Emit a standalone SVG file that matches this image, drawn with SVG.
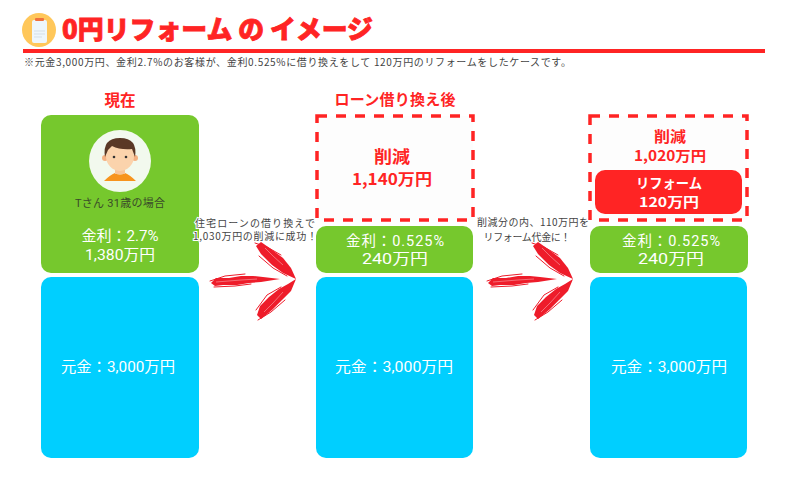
<svg xmlns="http://www.w3.org/2000/svg" width="789" height="485" viewBox="0 0 789 485">
<style>
text{font-family:"Roboto","Noto Sans CJK JP",sans-serif;text-anchor:middle}
.g{fill:#76c82d}.b{fill:#00cfff}
.w{fill:#fff;font-size:14.5px}
.r{fill:#ff2424;font-weight:700;font-family:"Noto Sans CJK JP",sans-serif}
.c{fill:#444;font-size:10px;font-family:"Noto Sans CJK JP",sans-serif}
.d{fill:#fdfdfd;stroke:#ff2424;stroke-width:3.5;stroke-dasharray:10 9}
.f{fill:#ee1c2a}
.s{fill:none;stroke:#ee1c2a;stroke-width:1;stroke-linecap:round}
.h{fill:none;stroke:#fff;stroke-width:.6;opacity:.6}
</style>
<defs>
<g id="arrow">
<path class="f" d="M0 3 L5 -2 L18 -2 L30 -4 L42 -4 L52 -3 L69 -1 L50 2 L38 3 L26 5 L12 5 L4 6Z"/>
<path class="f" d="M45 -34 L50 -38 L60 -31 L72 -22 L80 -12 L85 -1 L72 -7 L61 -15 L50 -26Z"/>
<path class="f" d="M46 35 L49 26 L58 17 L68 9 L77 4 L85 -1 L80 11 L71 20 L61 30 L50 39Z"/>
<path class="s" d="M-1 1 L14 -4 L34 -6 M3 7 L24 6 L40 4 M44 -37 L56 -33 L70 -25 M48 -24 L62 -12 L76 -4 M47 40 L60 32 L74 20 M45 30 L56 15 L70 7"/>
<path class="h" d="M5 2 L30 0 L46 -1 M54 -32 L62 -24 L72 -15 M53 32 L62 23 L72 12"/>
</g>
</defs>
<g id="header">
<circle cx="39" cy="30" r="17" fill="#ffc75a"/>
<rect x="32" y="20" width="15" height="23" rx="2" fill="#eef6fb"/>
<rect x="35" y="18" width="9" height="3" rx="1" fill="#f0703c"/>
<path d="M34 31H45M34 34H45M34 37H42" stroke="#d5dfe6" stroke-width="1"/>
<text x="62" y="39" class="r" style="text-anchor:start;font-size:26px;font-weight:900" textLength="311" lengthAdjust="spacingAndGlyphs" stroke="#ff2424" stroke-width=".8">0円リフォーム の イメージ</text>
<rect x="23" y="49" width="742" height="4" fill="#ff2424"/>
<text x="24" y="66" class="c" style="text-anchor:start" textLength="547">※元金3,000万円、金利2.7%のお客様が、金利0.525%に借り換えをして 120万円のリフォームをしたケースです。</text>
</g>
<g id="connectors">
<use href="#arrow" x="211" y="280"/>
<use href="#arrow" x="488" y="280"/>
</g>
<g id="node-current">
<text class="r" x="120" y="106" font-size="15.5">現在</text>
<rect class="g" x="41" y="115" width="158" height="158" rx="10"/>
<circle cx="120" cy="161" r="31" fill="#f2f9ee"/>
<path d="M104 181 Q110 175 115 173 Q120 176 125 173 Q130 175 136 181Z" fill="#f7941d"/>
<circle cx="105" cy="158" r="3" fill="#f4b183"/><circle cx="135" cy="158" r="3" fill="#f4b183"/>
<rect x="115" y="165" width="10" height="9" fill="#f8c69a"/>
<ellipse cx="120" cy="156" rx="14" ry="15" fill="#fbd3ac"/>
<path d="M105 157 Q102 138 120 138 Q138 138 135 157 L132 149 Q120 150 112 146 L108 150Z" fill="#5a3825"/>
<circle cx="114" cy="157" r="1.3" fill="#333"/><circle cx="126" cy="157" r="1.3" fill="#333"/>
<text x="120" y="207" font-size="11" fill="#3a4a2a" textLength="90">Tさん 31歳の場合</text>
<text class="w" x="120" y="241" textLength="77" lengthAdjust="spacingAndGlyphs">金利：2.7%</text>
<text class="w" x="120" y="260" textLength="70" lengthAdjust="spacingAndGlyphs">1,380万円</text>
<rect class="b" x="41" y="277" width="158" height="181" rx="10"/>
<text class="w" x="118" y="372" textLength="114" lengthAdjust="spacingAndGlyphs">元金：3,000万円</text>
</g>
<g id="label-1">
<text class="c" x="255" y="227" stroke="#fff" stroke-width="2" paint-order="stroke" textLength="120">住宅ローンの借り換えで</text>
<text class="c" x="255" y="240" stroke="#fff" stroke-width="2" paint-order="stroke" textLength="124">1,030万円の削減に成功！</text>
</g>
<g id="node-after">
<text class="r" x="395" y="105" font-size="15" textLength="121">ローン借り換え後</text>
<rect class="d" x="317" y="116" width="156" height="104"/>
<text class="r" x="392" y="163" font-size="16.5" textLength="36" lengthAdjust="spacingAndGlyphs">削減</text>
<text class="r" x="392" y="185" font-size="16" textLength="80" lengthAdjust="spacingAndGlyphs">1,140万円</text>
<rect class="g" x="316" y="226" width="157" height="47" rx="10"/>
<text class="w" x="395" y="246" textLength="98">金利：0.525%</text>
<text class="w" x="395" y="264" textLength="66" lengthAdjust="spacingAndGlyphs">240万円</text>
<rect class="b" x="316" y="277" width="157" height="181" rx="10"/>
<text class="w" x="394" y="372" textLength="118" lengthAdjust="spacingAndGlyphs">元金：3,000万円</text>
</g>
<g id="label-2">
<text class="c" x="533" y="226" textLength="112">削減分の内、110万円を</text>
<text class="c" x="527" y="241" textLength="87">リフォーム代金に！</text>
</g>
<g id="node-reform">
<rect class="d" x="590" y="116" width="157" height="104"/>
<text class="r" x="670" y="142" font-size="14.5" textLength="32" lengthAdjust="spacingAndGlyphs">削減</text>
<text class="r" x="670" y="161" font-size="14" textLength="72" lengthAdjust="spacingAndGlyphs">1,020万円</text>
<rect x="595" y="170" width="147" height="44" rx="10" fill="#ff2424"/>
<text x="669" y="188" class="r" style="fill:#fff" font-size="13.5" textLength="66" lengthAdjust="spacingAndGlyphs">リフォーム</text>
<text x="669" y="207" class="r" style="fill:#fff" font-size="13.5" textLength="60" lengthAdjust="spacingAndGlyphs">120万円</text>
<rect class="g" x="590" y="226" width="158" height="47" rx="10"/>
<text class="w" x="671" y="246" textLength="98">金利：0.525%</text>
<text class="w" x="671" y="264" textLength="66" lengthAdjust="spacingAndGlyphs">240万円</text>
<rect class="b" x="590" y="277" width="157" height="181" rx="10"/>
<text class="w" x="669" y="372" textLength="116" lengthAdjust="spacingAndGlyphs">元金：3,000万円</text>
</g>
</svg>
